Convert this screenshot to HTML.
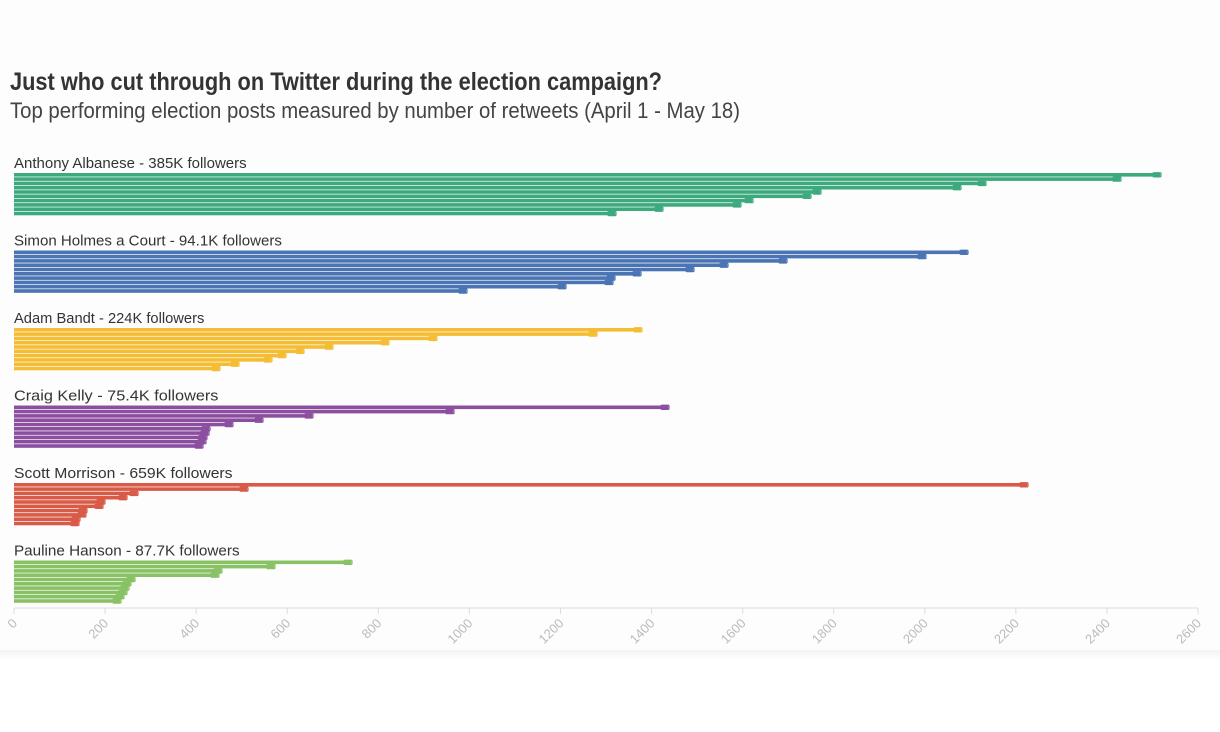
<!DOCTYPE html>
<html><head><meta charset="utf-8"><style>
html,body{margin:0;padding:0;background:#fff;}
svg{display:block;}
</style></head><body>
<svg id="c" width="1220" height="732" xmlns="http://www.w3.org/2000/svg">
<defs><linearGradient id="sh" x1="0" y1="0" x2="0" y2="1"><stop offset="0" stop-color="#f3f3f3"/><stop offset="1" stop-color="#ffffff"/></linearGradient></defs>
<rect x="0" y="0" width="1220" height="658" fill="#fdfdfd"/>
<rect x="0" y="650" width="1220" height="10" fill="url(#sh)"/>
<text x="10" y="90" font-family="'Liberation Sans Narrow','Liberation Sans',sans-serif" font-weight="bold" font-size="25" fill="#333" textLength="652" lengthAdjust="spacingAndGlyphs">Just who cut through on Twitter during the election campaign?</text>
<text x="10" y="118" font-family="'Liberation Sans Narrow','Liberation Sans',sans-serif" font-size="22" fill="#444" textLength="730" lengthAdjust="spacingAndGlyphs">Top performing election posts measured by number of retweets (April 1 - May 18)</text>
<g id="bars"></g>
<line x1="14" y1="608" x2="1198" y2="608" stroke="#ddd" stroke-width="1"/>
<g id="ax"></g>
</svg>
<script>
var groups=[
["Anthony Albanese - 385K followers","#3daa7e",[1160,1120,985,960,820,810,752,740,662,615]],
["Simon Holmes a Court - 94.1K followers","#4a74b3",[967,925,786,727,693,640,614,612,565,466]],
["Adam Bandt - 224K followers","#f4bd33",[641,596,436,388,332,303,285,271,238,219]],
["Craig Kelly - 75.4K followers","#8c4f9f",[668,453,312,262,232,209,208,206,205,202]],
["Scott Morrison - 659K followers","#d85a47",[1027,247,137,126,104,102,86,85,79,78]],
["Pauline Hanson - 87.7K followers","#88c264",[351,274,221,218,134,130,128,126,123,120]]
];
var b=document.getElementById("bars"),h="";
groups.forEach(function(g,i){
 var top=173+i*77.5;
 h+='<text x="14" y="'+(top-5)+'" font-family="\'Liberation Sans\',sans-serif" font-size="15" fill="#333" textLength="'+(g[0].length*7.05)+'" lengthAdjust="spacingAndGlyphs">'+g[0]+'</text>';
 g[2].forEach(function(e,j){
  var y=top+j*4.3;
  h+='<rect x="14" y="'+y+'" width="'+(e-14)+'" height="3.6" fill="'+g[1]+'"/>';
  h+='<rect x="'+(e-7)+'" y="'+(y-0.3)+'" width="8" height="4.2" rx="1" fill="'+g[1]+'" fill-opacity="0.5" stroke="'+g[1]+'" stroke-width="1.2"/>';
 });
});
b.innerHTML=h;
var a="";
for(var v=0;v<=2600;v+=200){
 var x=14+v*(1184/2600);
 a+='<line x1="'+x+'" y1="608" x2="'+x+'" y2="614" stroke="#ddd"/>';
 a+='<text transform="translate('+(x+4)+',624) rotate(-45)" text-anchor="end" font-family="\'Liberation Sans\',sans-serif" font-size="13" fill="#bbb">'+v+'</text>';
}
document.getElementById("ax").innerHTML=a;
</script>
</body></html>
